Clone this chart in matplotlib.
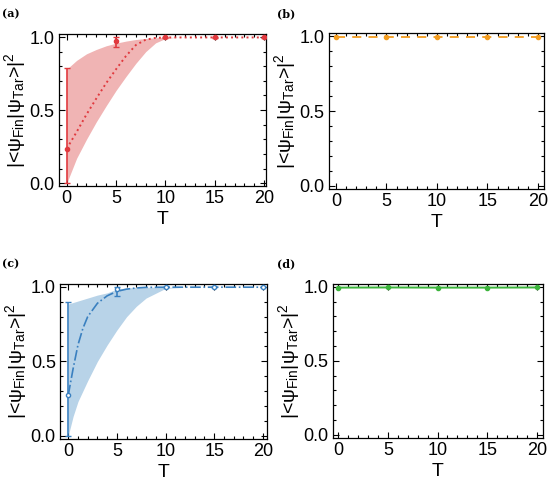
import matplotlib
matplotlib.use("Agg")
import matplotlib.pyplot as plt
from matplotlib.ticker import MultipleLocator

plt.rcParams['font.family'] = 'Liberation Sans'
plt.rcParams['mathtext.fontset'] = 'custom'
plt.rcParams['mathtext.rm'] = 'Liberation Sans'
plt.rcParams['mathtext.it'] = 'Liberation Sans:italic'

# measured points (T, fidelity, error bar low/high)
T_pts = [0, 5, 10, 15, 20]

a_val = [0.236, 0.975, 0.997, 0.997, 0.997]
a_lo = [0.0, 0.935, 0.995, 0.995, 0.995]
a_hi = [0.785, 1.0, 0.999, 0.999, 0.999]

b_val = [0.995, 0.995, 0.995, 0.995, 0.995]

c_val = [0.272, 0.985, 0.998, 0.998, 0.998]
c_lo = [0.0, 0.94, 0.996, 0.996, 0.996]
c_hi = [0.90, 1.0, 0.999, 0.999, 0.999]

d_val = [0.995, 0.996, 0.995, 0.995, 0.996]

# fitted curves and shaded bands
T_fit = [0, 1, 2, 3, 4, 5, 6, 7, 8, 9, 10, 11, 12, 15, 20]
a_fit = [0.236, 0.35, 0.47, 0.58, 0.685, 0.78, 0.87, 0.945, 0.982, 0.994, 0.997, 0.997, 0.997, 0.997, 0.997]
a_up = [0.78, 0.84, 0.885, 0.915, 0.94, 0.958, 0.972, 0.983, 0.99, 0.995, 0.998, 0.998, 0.998, 0.998, 0.998]
a_dn = [0.0, 0.17, 0.30, 0.42, 0.53, 0.635, 0.73, 0.82, 0.90, 0.96, 0.99, 0.997, 0.998, 0.998, 0.998]

T_fit_c = [0, 0.5, 1, 1.5, 2, 3, 4, 5, 6, 7, 8, 10, 12, 15, 20]
c_fit = [0.272, 0.45, 0.61, 0.72, 0.80, 0.89, 0.94, 0.97, 0.985, 0.993, 0.997, 0.998, 0.998, 0.998, 0.998]
c_up = [0.885, 0.895, 0.905, 0.915, 0.925, 0.945, 0.96, 0.985, 0.993, 0.997, 0.998, 0.998, 0.998, 0.998, 0.998]
c_dn = [0.0, 0.13, 0.23, 0.30, 0.37, 0.50, 0.61, 0.71, 0.80, 0.87, 0.925, 0.99, 0.998, 0.998, 0.998]

red = '#e0393e'
blue = '#3a80c0'
orange = '#f39c1e'
green = '#3cb43c'

ylab = '|<ψ$_{\\rm Fin}$|ψ$_{\\rm Tar}$>|$^{2}$'

fig = plt.figure(figsize=(5.5, 4.87), dpi=100)

boxes = [
    [0.107, 0.618, 0.377, 0.312],
    [0.598, 0.612, 0.391, 0.320],
    [0.109, 0.099, 0.376, 0.318],
    [0.605, 0.101, 0.382, 0.316],
]
xlims = [(-0.8, 20.2), (-0.7, 20.6), (-0.85, 20.4), (-0.55, 20.6)]
labels = ['(a)', '(b)', '(c)', '(d)']
label_pos = [(0.004, 0.972), (0.504, 0.972), (0.004, 0.458), (0.504, 0.458)]

axes = []
for i, box in enumerate(boxes):
    ax = fig.add_axes(box)
    ax.set_xlim(*xlims[i])
    ax.set_ylim(-0.02, 1.02)
    ax.xaxis.set_major_locator(MultipleLocator(5))
    ax.xaxis.set_minor_locator(MultipleLocator(1))
    ax.yaxis.set_major_locator(MultipleLocator(0.5))
    ax.yaxis.set_minor_locator(MultipleLocator(0.1))
    ax.tick_params(which='both', direction='in', top=True, right=True,
                   labelsize=13, width=0.8, pad=3)
    ax.tick_params(which='major', length=4)
    ax.tick_params(which='minor', length=2)
    ax.set_xticks([0, 5, 10, 15, 20])
    ax.set_yticks([0.0, 0.5, 1.0])
    ax.set_yticklabels(['0.0', '0.5', '1.0'])
    for s in ax.spines.values():
        s.set_linewidth(0.9)
    ax.set_xlabel('T', fontsize=14, labelpad=3)
    ax.set_ylabel(ylab, fontsize=14, labelpad=1)
    fig.text(label_pos[i][0], label_pos[i][1], labels[i], fontsize=8,
             fontweight='bold', family='DejaVu Serif', va='center')
    axes.append(ax)

# (a)
ax = axes[0]
ax.fill_between(T_fit, a_dn, a_up, color='#f0b4b4', lw=0, zorder=1)
ax.plot(T_fit, a_fit, ':', color=red, lw=1.4, zorder=2)
a_err = [[v - l for v, l in zip(a_val, a_lo)], [h - v for v, h in zip(a_val, a_hi)]]
ax.errorbar(T_pts, a_val, yerr=a_err, fmt='o', ms=3, color=red, mfc=red,
            elinewidth=1.2, capsize=2.5, capthick=1, zorder=3)

# (b)
ax = axes[1]
ax.plot(T_pts, b_val, '--', color=orange, lw=1.3, dashes=(5, 4), zorder=2)
ax.plot(T_pts, b_val, 'o', ms=3, color=orange, zorder=3)

# (c)
ax = axes[2]
ax.fill_between(T_fit_c, c_dn, c_up, color='#b8d3e8', lw=0, zorder=1)
ax.plot(T_fit_c, c_fit, '-.', color=blue, lw=1.2, zorder=2)
c_err = [[v - l for v, l in zip(c_val, c_lo)], [h - v for v, h in zip(c_val, c_hi)]]
ax.errorbar(T_pts, c_val, yerr=c_err, fmt='o', ms=3, color=blue, mfc='white',
            elinewidth=1.2, capsize=2.5, capthick=1, zorder=3)

# (d)
ax = axes[3]
ax.plot(T_pts, d_val, '-', color=green, lw=1.4, zorder=2)
ax.plot(T_pts, d_val, 'o', ms=3, color=green, zorder=3)

fig.savefig('out.png', dpi=100)
